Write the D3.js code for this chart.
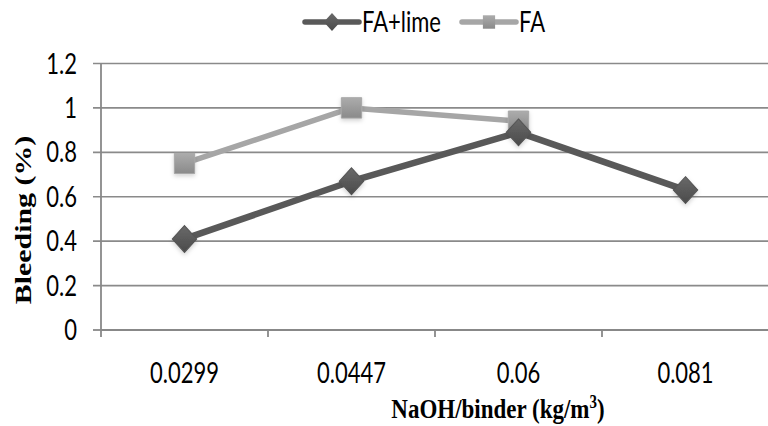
<!DOCTYPE html>
<html>
<head>
<meta charset="utf-8">
<script src="https://cdn.jsdelivr.net/npm/d3@7"></script>
<style>
  html, body { margin: 0; padding: 0; background: #fff; }
  svg { display: block; }
  .tick-label { font-family: Lato, "Open Sans", sans-serif; font-size: 22px; fill: #000; }
  .axis-title { font-family: "Liberation Serif", "DejaVu Serif", serif; font-weight: bold; font-size: 23px; fill: #000; }
</style>
</head>
<body>
<div id="chart"></div>
<script>
// data
const categories = ["0.0299", "0.0447", "0.06", "0.081"];
const faLime = [0.41, 0.67, 0.89, 0.63];
const fa = [0.75, 1.0, 0.94];
const yTicks = [0, 0.2, 0.4, 0.6, 0.8, 1, 1.2];
const seriesNames = ["FA+lime", "FA"];

const width = 768, height = 426;
const margin = { left: 101, right: -1, top: 63.5, bottom: 96 };
const plotBottom = height - margin.bottom;
// the reference picture is stretched vertically, so text is drawn taller than wide
const stretch = 1.3;
const titleStretch = 1.2;

const svg = d3.select("#chart").append("svg")
    .attr("width", width)
    .attr("height", height);

const defs = svg.append("defs");

function markerGradient(id, top, bottom) {
    const g = defs.append("linearGradient")
        .attr("id", id)
        .attr("x1", 0).attr("y1", 0).attr("x2", 0).attr("y2", 1);
    g.append("stop").attr("offset", "0%").attr("stop-color", top);
    g.append("stop").attr("offset", "100%").attr("stop-color", bottom);
}
markerGradient("gradDiamond", "#6a6a6a", "#4a4a4a");
markerGradient("gradSquare", "#acacac", "#8a8a8a");

const shadow = defs.append("filter").attr("id", "shadow")
    .attr("x", "-50%").attr("y", "-50%").attr("width", "200%").attr("height", "200%");
shadow.append("feDropShadow")
    .attr("dx", 0).attr("dy", 2).attr("stdDeviation", 2)
    .attr("flood-color", "#000").attr("flood-opacity", 0.18);

const x = d3.scaleBand()
    .domain(categories)
    .range([margin.left, width - margin.right])
    .paddingInner(0).paddingOuter(0);

const y = d3.scaleLinear()
    .domain([0, 1.2])
    .range([plotBottom, margin.top]);

const cx = c => x(c) + x.bandwidth() / 2;

// gridlines
svg.append("g")
    .selectAll("line")
    .data(yTicks.filter(d => d > 0))
    .join("line")
    .attr("x1", margin.left - 8)
    .attr("x2", width)
    .attr("y1", d => y(d))
    .attr("y2", d => y(d))
    .attr("stroke", "#8a8a8a")
    .attr("stroke-width", 1.6);

// y axis
svg.append("line")
    .attr("x1", margin.left).attr("x2", margin.left)
    .attr("y1", margin.top).attr("y2", plotBottom + 7)
    .attr("stroke", "#888").attr("stroke-width", 1.8);

svg.append("line")
    .attr("x1", margin.left - 8).attr("x2", margin.left)
    .attr("y1", y(0)).attr("y2", y(0))
    .attr("stroke", "#888").attr("stroke-width", 1.8);

svg.append("g")
    .selectAll("text")
    .data(yTicks)
    .join("text")
    .attr("class", "tick-label")
    .attr("transform", d => `translate(77,${y(d)}) scale(1,${stretch})`)
    .attr("dy", "0.35em")
    .attr("text-anchor", "end")
    .text(d => d3.format("")(d));

// x axis
svg.append("line")
    .attr("x1", margin.left).attr("x2", width)
    .attr("y1", plotBottom).attr("y2", plotBottom)
    .attr("stroke", "#888").attr("stroke-width", 2);

svg.append("g")
    .selectAll("line")
    .data(categories.slice(1))
    .join("line")
    .attr("x1", d => x(d)).attr("x2", d => x(d))
    .attr("y1", plotBottom).attr("y2", plotBottom + 7)
    .attr("stroke", "#888").attr("stroke-width", 1.8);

svg.append("g")
    .selectAll("text")
    .data(categories)
    .join("text")
    .attr("class", "tick-label")
    .attr("transform", d => `translate(${cx(d)},373) scale(1,${stretch})`)
    .attr("dy", "0.35em")
    .attr("text-anchor", "middle")
    .text(d => d);

// axis titles
const xTitle = svg.append("text")
    .attr("class", "axis-title")
    .attr("transform", `translate(498,418) scale(1,${titleStretch})`)
    .attr("text-anchor", "middle");
xTitle.append("tspan").text("NaOH/binder (kg/m");
xTitle.append("tspan").attr("font-size", "15px").attr("dy", "-8").text("3");
xTitle.append("tspan").attr("dy", "8").text(")");

svg.append("text")
    .attr("class", "axis-title")
    .attr("transform", `translate(31,220) rotate(-90) scale(${stretch},1)`)
    .attr("text-anchor", "middle")
    .text("Bleeding (%)");

// series
const line = d3.line()
    .x((d, i) => cx(categories[i]))
    .y(d => y(d));

const diamond = d3.symbol().type(d3.symbolDiamond2).size(380);
const square = d3.symbol().type(d3.symbolSquare2).size(530);

svg.append("path")
    .datum(fa)
    .attr("fill", "none")
    .attr("stroke", "#a6a6a6")
    .attr("stroke-width", 5.5)
    .attr("stroke-linejoin", "round")
    .attr("d", line);

svg.append("g")
    .selectAll("path")
    .data(fa)
    .join("path")
    .attr("transform", (d, i) => `translate(${cx(categories[i])},${y(d)})`)
    .attr("d", square)
    .attr("fill", "url(#gradSquare)")
    .attr("stroke", "#a8a8a8")
    .attr("stroke-width", 1)
    .attr("filter", "url(#shadow)");

svg.append("path")
    .datum(faLime)
    .attr("fill", "none")
    .attr("stroke", "#595959")
    .attr("stroke-width", 6.5)
    .attr("stroke-linejoin", "round")
    .attr("d", line);

svg.append("g")
    .selectAll("path")
    .data(faLime)
    .join("path")
    .attr("transform", (d, i) => `translate(${cx(categories[i])},${y(d)}) scale(1,1.1)`)
    .attr("d", diamond)
    .attr("fill", "url(#gradDiamond)")
    .attr("stroke", "#555")
    .attr("stroke-width", 1)
    .attr("filter", "url(#shadow)");

// legend
const legend = svg.append("g").attr("transform", "translate(0,22)");
const legendItems = [
    { name: seriesNames[0], x0: 305, color: "#595959", sym: d3.symbol().type(d3.symbolDiamond2).size(170), fill: "url(#gradDiamond)" },
    { name: seriesNames[1], x0: 462, color: "#a6a6a6", sym: d3.symbol().type(d3.symbolSquare2).size(190), fill: "url(#gradSquare)" }
];
legendItems.forEach(item => {
    legend.append("line")
        .attr("x1", item.x0).attr("x2", item.x0 + 54)
        .attr("y1", 0).attr("y2", 0)
        .attr("stroke", item.color).attr("stroke-width", 5.5)
        .attr("stroke-linecap", "round");
    legend.append("path")
        .attr("transform", `translate(${item.x0 + 27},0) scale(1,1.1)`)
        .attr("d", item.sym)
        .attr("fill", item.fill);
    legend.append("text")
        .attr("class", "tick-label")
        .attr("transform", `translate(${item.x0 + 57},0) scale(1,${stretch})`)
        .attr("dy", "0.35em")
        .text(item.name);
});
</script>
</body>
</html>
